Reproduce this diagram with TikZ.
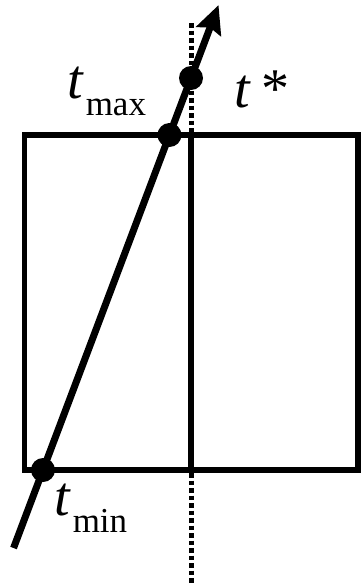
\documentclass[tikz,border=0pt]{standalone}
\usepackage{fontspec}
\setmainfont{Liberation Serif}
\usetikzlibrary{arrows.meta,calc}
\newcommand{\bigt}{\fontsize{56}{56}\selectfont\itshape t}
\newcommand{\subtxt}[1]{\raisebox{-17pt}{\fontsize{35}{35}\selectfont\upshape #1}}
\begin{document}
\begin{tikzpicture}[x=1pt,y=-1pt,
  frame/.style={line width=5.5pt},
  ray/.style={line width=7pt,-{Stealth[length=28pt,width=26pt,inset=4pt]}},
  dotline/.style={line width=5pt,dash pattern=on 4.5pt off 3pt},
  pt/.style={circle,fill=black,inner sep=0pt,minimum size=24pt},
  lbl/.style={anchor=base west,inner sep=0pt}]
\useasboundingbox (0,0) rectangle (361,584);
\coordinate (tmin) at (43,470);
\coordinate (ts) at (191,78);
\coordinate (dtop) at (191,23);
\coordinate (dbot) at (191,584);
\coordinate (mtop) at (191,135);
\coordinate (mbot) at (191,470);
\coordinate (rbot) at ($(tmin)!-0.199!(ts)$);
\coordinate (rtip) at ($(tmin)!1.186!(ts)$);
\coordinate (tmax) at ($(tmin)!0.8546!(ts)$);
\draw[dotline] (dtop) -- (dbot);
\draw[frame] (24.5,135) rectangle (358,470);
\draw[frame] (mtop) -- (mbot);
\draw[ray] (rbot) -- (rtip);
\node[pt] (dmin) at (tmin) {};
\node[pt] (dmax) at (tmax) {};
\node[pt] (dstar) at (ts) {};
\node[lbl] (lmax) at (67,98) {\bigt\hspace{3pt}\subtxt{max}};
\node[lbl] (lmin) at (54,515) {\bigt\hspace{3pt}\subtxt{min}};
\node[lbl] (lstar) at (234,107) {\bigt\hspace{12pt}{\fontsize{56}{56}\selectfont\upshape *}};
\end{tikzpicture}
\end{document}
